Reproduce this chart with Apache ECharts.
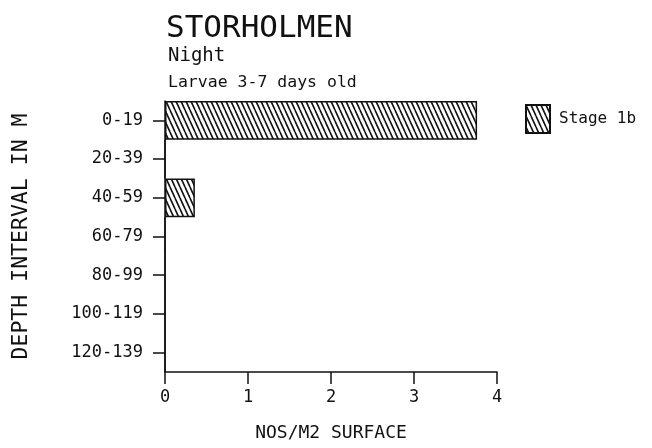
<!DOCTYPE html>
<html>
<head>
<meta charset="utf-8">
<script src="https://cdn.jsdelivr.net/npm/echarts@6/dist/echarts.min.js"></script>
<style>
  html, body { margin: 0; padding: 0; background: #fff; }
  #chart { width: 652px; height: 448px; }
</style>
</head>
<body>
<div id="chart"></div>
<script>
// depth intervals (top to bottom) and catch per interval
const depthIntervals = ['0-19', '20-39', '40-59', '60-79', '80-99', '100-119', '120-139']
const stage1b = [3.76, 0, 0.36, 0, 0, 0, 0]
const xTicks = [0, 1, 2, 3, 4]

const FONT = '"DejaVu Sans Mono", monospace'

// steep "\\\\" hatch like the plotter fill
function hatch () {
  const w = 5
  const h = 11
  const c = document.createElement('canvas')
  c.width = w
  c.height = h
  const ctx = c.getContext('2d')
  ctx.fillStyle = '#fff'
  ctx.fillRect(0, 0, w, h)
  ctx.strokeStyle = '#111'
  ctx.lineWidth = 1.6
  ctx.beginPath()
  for (let k = -1; k <= 1; k++) {
    ctx.moveTo(k * w, 0)
    ctx.lineTo(k * w + w, h)
  }
  ctx.stroke()
  return c
}

const chart = echarts.init(document.getElementById('chart'))
chart.setOption({
  backgroundColor: '#fff',
  animation: false,
  textStyle: { fontFamily: FONT, color: '#111' },
  title: [
    { text: 'STORHOLMEN', left: 161, top: 8, textStyle: { fontFamily: FONT, fontSize: 31, fontWeight: 'normal', color: '#111' } },
    { text: 'Night', left: 163, top: 42, textStyle: { fontFamily: FONT, fontSize: 19, fontWeight: 'normal', color: '#111' } },
    { text: 'Larvae 3-7 days old', left: 163, top: 69, textStyle: { fontFamily: FONT, fontSize: 16.5, fontWeight: 'normal', color: '#111' } }
  ],
  legend: {
    left: 520,
    top: 99,
    icon: 'rect',
    itemWidth: 24,
    itemHeight: 28,
    itemGap: 10,
    selectedMode: false,
    textStyle: { fontFamily: FONT, fontSize: 16, color: '#111', padding: [0, 0, 0, 4] },
    data: ['Stage 1b']
  },
  grid: {
    left: 165,
    right: 155,
    top: 101,
    bottom: 76,
    outerBoundsMode: 'none'
  },
  xAxis: {
    type: 'value',
    min: 0,
    max: 4,
    interval: 1,
    name: 'NOS/M2 SURFACE',
    nameLocation: 'middle',
    nameGap: 52,
    nameTextStyle: { fontFamily: FONT, fontSize: 18, color: '#111' },
    axisLine: { show: true, lineStyle: { color: '#111', width: 1.5 } },
    axisTick: { show: true, length: 12, lineStyle: { color: '#111', width: 1.5 } },
    axisLabel: {
      color: '#111',
      fontFamily: FONT,
      fontSize: 17,
      margin: 17,
      formatter: v => xTicks.includes(v) ? String(v) : ''
    },
    splitLine: { show: false }
  },
  yAxis: {
    type: 'category',
    inverse: true,
    data: depthIntervals,
    name: 'DEPTH INTERVAL IN M',
    nameLocation: 'middle',
    nameGap: 133,
    nameRotate: 90,
    nameTextStyle: { fontFamily: FONT, fontSize: 21.5, color: '#111' },
    axisLine: { show: true, lineStyle: { color: '#111', width: 1.5 } },
    axisTick: { show: true, alignWithLabel: true, length: 12, lineStyle: { color: '#111', width: 1.5 } },
    axisLabel: { color: '#111', fontFamily: FONT, fontSize: 17, margin: 22 },
    splitLine: { show: false }
  },
  series: [
    {
      name: 'Stage 1b',
      type: 'bar',
      data: stage1b,
      barCategoryGap: '0%',
      itemStyle: {
        color: { image: hatch(), repeat: 'repeat' },
        borderColor: '#111',
        borderWidth: 1.5
      }
    }
  ]
})
</script>
</body>
</html>
